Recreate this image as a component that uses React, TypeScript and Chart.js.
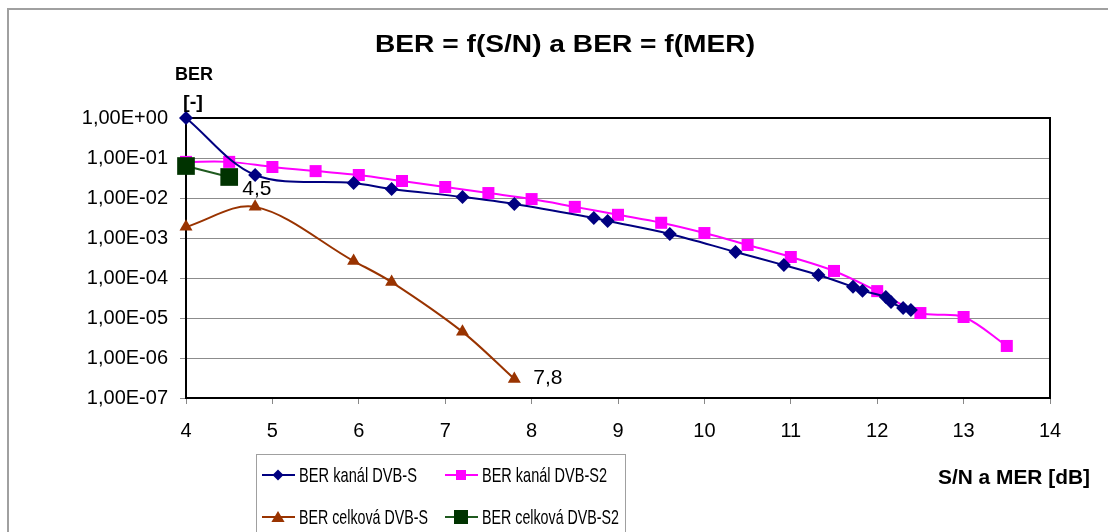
import React, { useEffect, useRef } from "react";
import { Chart, registerables } from "chart.js";

Chart.register(...registerables);

const TITLE = "BER = f(S/N) a BER = f(MER)";
const Y_TITLE_1 = "BER";
const Y_TITLE_2 = "[-]";
const X_TITLE = "S/N a MER [dB]";

const Y_TICKS = [1, 1e-1, 1e-2, 1e-3, 1e-4, 1e-5, 1e-6, 1e-7];
const X_MIN = 4;
const X_MAX = 14;

const SERIES_NAMES = [
  "BER kanál DVB-S",
  "BER kanál DVB-S2",
  "BER celková DVB-S",
  "BER celková DVB-S2",
];

const DVBS_X = [4, 4.8, 5.94, 6.38, 7.2, 7.8, 8.72, 8.88, 9.6, 10.36, 10.92, 11.32, 11.72, 11.83, 12.1, 12.16, 12.3, 12.39];
const DVBS_BER = [1.0, 0.0376, 0.0237, 0.0168, 0.0106, 0.0071, 0.00316, 0.00266, 0.00126, 4.47e-4, 2.1e-4, 1.19e-4, 6.0e-5, 4.8e-5, 3.35e-5, 2.5e-5, 1.78e-5, 1.58e-5];

const DVBS2_X = [4, 4.5, 5, 5.5, 6, 6.5, 7, 7.5, 8, 8.5, 9, 9.5, 10, 10.5, 11, 11.5, 12, 12.5, 13, 13.5];
const DVBS2_BER = [0.08, 0.08, 0.0596, 0.047, 0.0376, 0.0266, 0.0188, 0.0133, 0.0094, 0.006, 0.0038, 0.0024, 0.00133, 6.7e-4, 3.35e-4, 1.5e-4, 4.7e-5, 1.33e-5, 1.06e-5, 2.0e-6];

const TOTAL_S_X = [4, 4.8, 5.94, 6.38, 7.2, 7.8];
const TOTAL_S_BER = [1.9e-3, 6.0e-3, 2.66e-4, 7.9e-5, 4.5e-6, 3.0e-7];

const TOTAL_S2_X = [4, 4.5];
const TOTAL_S2_BER = [0.063, 0.0335];

const COLORS = ["#000080", "#FF00FF", "#993300", "#003300"];
const LINE_COLORS = ["#000080", "#FF00FF", "#993300", "#1f5a1f"];

const FONT = '"Liberation Sans", Arial, sans-serif';

function pts(xs: number[], ys: number[]) {
  return xs.map((x, i) => ({ x, y: ys[i] }));
}

function fmtSci(v: number) {
  const [m, e] = v.toExponential(2).split("e");
  const n = parseInt(e, 10);
  const sign = n < 0 ? "-" : "+";
  const abs = Math.abs(n).toString().padStart(2, "0");
  return m.replace(".", ",") + "E" + sign + abs;
}

function fitText(ctx: CanvasRenderingContext2D, text: string, x: number, y: number, font: string, width: number) {
  ctx.save();
  ctx.font = font;
  ctx.fillStyle = "#000";
  ctx.textAlign = "left";
  ctx.textBaseline = "alphabetic";
  const w = ctx.measureText(text).width;
  ctx.translate(x, y);
  ctx.scale(width / w, 1);
  ctx.fillText(text, 0, 0);
  ctx.restore();
}

function marker(ctx: CanvasRenderingContext2D, kind: string, x: number, y: number, s: number, color: string) {
  ctx.save();
  ctx.fillStyle = color;
  ctx.beginPath();
  if (kind === "diamond") {
    ctx.moveTo(x, y - s);
    ctx.lineTo(x + s, y);
    ctx.lineTo(x, y + s);
    ctx.lineTo(x - s, y);
    ctx.closePath();
  } else if (kind === "square") {
    ctx.rect(x - s, y - s, 2 * s, 2 * s);
  } else {
    ctx.moveTo(x, y - s);
    ctx.lineTo(x + s * 1.1, y + s * 0.85);
    ctx.lineTo(x - s * 1.1, y + s * 0.85);
    ctx.closePath();
  }
  ctx.fill();
  ctx.restore();
}

const decorPlugin = {
  id: "decor",
  beforeDraw(chart: any) {
    const ctx = chart.ctx as CanvasRenderingContext2D;
    ctx.save();
    ctx.fillStyle = "#fff";
    ctx.fillRect(0, 0, chart.width, chart.height);
    ctx.strokeStyle = "#a0a0a0";
    ctx.lineWidth = 2;
    ctx.strokeRect(8, 9, 1300, 700);
    ctx.restore();
  },
  beforeDatasetsDraw(chart: any) {
    const ctx = chart.ctx as CanvasRenderingContext2D;
    const a = chart.chartArea;
    ctx.save();
    ctx.strokeStyle = "#000";
    ctx.lineWidth = 2;
    ctx.strokeRect(a.left, a.top, a.right - a.left, a.bottom - a.top);
    ctx.restore();
  },
  afterDraw(chart: any) {
    const ctx = chart.ctx as CanvasRenderingContext2D;
    // titles
    fitText(ctx, TITLE, 375, 52, `bold 23px ${FONT}`, 380);
    fitText(ctx, Y_TITLE_1, 175, 80, `bold 18px ${FONT}`, 38);
    fitText(ctx, Y_TITLE_2, 183, 108, `bold 18px ${FONT}`, 20);
    fitText(ctx, X_TITLE, 938, 484, `bold 21px ${FONT}`, 152);

    // data labels
    ctx.save();
    ctx.font = `21px ${FONT}`;
    ctx.fillStyle = "#000";
    const lab = (dsIndex: number, idx: number, dx: number, dy: number) => {
      const el = chart.getDatasetMeta(dsIndex).data[idx];
      const xv = chart.data.datasets[dsIndex].data[idx].x;
      ctx.fillText(String(xv).replace(".", ","), el.x + dx, el.y + dy);
    };
    lab(3, TOTAL_S2_X.length - 1, 13, 18);
    lab(2, TOTAL_S_X.length - 1, 19, 5);
    ctx.restore();

    // legend
    ctx.save();
    ctx.strokeStyle = "#a0a0a0";
    ctx.lineWidth = 1;
    ctx.strokeRect(256.5, 454.5, 369, 120);
    const items = [
      { x: 262, y: 475, kind: "diamond", s: 5.5, tw: 118 },
      { x: 445, y: 475, kind: "square", s: 5, tw: 125 },
      { x: 262, y: 517, kind: "triangle", s: 6, tw: 129 },
      { x: 445, y: 517, kind: "square", s: 7, tw: 137 },
    ];
    items.forEach((it, i) => {
      ctx.strokeStyle = LINE_COLORS[i];
      ctx.lineWidth = 2;
      ctx.beginPath();
      ctx.moveTo(it.x, it.y);
      ctx.lineTo(it.x + 33, it.y);
      ctx.stroke();
      marker(ctx, it.kind, it.x + 16, it.y, it.s, COLORS[i]);
      fitText(ctx, SERIES_NAMES[i], it.x + 37, it.y + 7, `21px ${FONT}`, it.tw);
    });
    ctx.restore();
  },
};

export default function App() {
  const ref = useRef<HTMLCanvasElement | null>(null);
  useEffect(() => {
    if (!ref.current) return;
    const chart = new Chart(ref.current, {
      type: "line",
      data: {
        datasets: [
          {
            label: SERIES_NAMES[0],
            data: pts(DVBS_X, DVBS_BER),
            borderColor: LINE_COLORS[0],
            backgroundColor: COLORS[0],
            borderWidth: 2,
            pointStyle: "rectRot",
            pointRadius: 7,
            pointBorderWidth: 0,
            tension: 0.33,
            order: 1,
            clip: false as any,
          },
          {
            label: SERIES_NAMES[1],
            data: pts(DVBS2_X, DVBS2_BER),
            borderColor: LINE_COLORS[1],
            backgroundColor: COLORS[1],
            borderWidth: 2,
            pointStyle: "rect",
            pointRadius: 8.5,
            pointBorderWidth: 0,
            tension: 0.33,
            order: 3,
            clip: false as any,
          },
          {
            label: SERIES_NAMES[2],
            data: pts(TOTAL_S_X, TOTAL_S_BER),
            borderColor: LINE_COLORS[2],
            backgroundColor: COLORS[2],
            borderWidth: 2,
            pointStyle: "triangle",
            pointRadius: 7.5,
            pointBorderWidth: 0,
            tension: 0.33,
            order: 2,
            clip: false as any,
          },
          {
            label: SERIES_NAMES[3],
            data: pts(TOTAL_S2_X, TOTAL_S2_BER),
            borderColor: LINE_COLORS[3],
            backgroundColor: COLORS[3],
            borderWidth: 2,
            pointStyle: "rect",
            pointRadius: 12.5,
            pointBorderWidth: 0,
            tension: 0.33,
            order: 0,
            clip: false as any,
          },
        ],
      },
      options: {
        responsive: false,
        animation: false,
        events: [],
        layout: { padding: { left: 0, top: 118, right: 58, bottom: 0 } },
        plugins: {
          legend: { display: false },
          title: { display: false },
          tooltip: { enabled: false },
        },
        scales: {
          x: {
            type: "linear",
            min: X_MIN,
            max: X_MAX,
            ticks: {
              stepSize: 1,
              color: "#000",
              font: { family: FONT, size: 20 },
              padding: 15,
              maxRotation: 0,
            },
            grid: { drawOnChartArea: false, drawTicks: true, tickLength: 6, color: "#888" },
            border: { display: false },
            afterFit: (s: any) => {
              s.height = 134;
            },
          },
          y: {
            type: "logarithmic",
            min: 1e-7,
            max: 1,
            ticks: {
              color: "#000",
              font: { family: FONT, size: 20 },
              padding: 12,
              callback: (v: any) => fmtSci(Number(v)),
            },
            afterBuildTicks: (s: any) => {
              s.ticks = Y_TICKS.map((v) => ({ value: v }));
            },
            grid: { color: "#8c8c8c", tickLength: 6, lineWidth: 1 },
            border: { display: false },
            afterFit: (s: any) => {
              s.width = 186;
            },
          },
        },
      } as any,
      plugins: [decorPlugin],
    });
    return () => chart.destroy();
  }, []);
  return (
    <div style={{ position: "fixed", left: 0, top: 0, width: 1108, height: 532 }}>
      <canvas ref={ref} width={1108} height={532} style={{ display: "block" }} />
    </div>
  );
}
